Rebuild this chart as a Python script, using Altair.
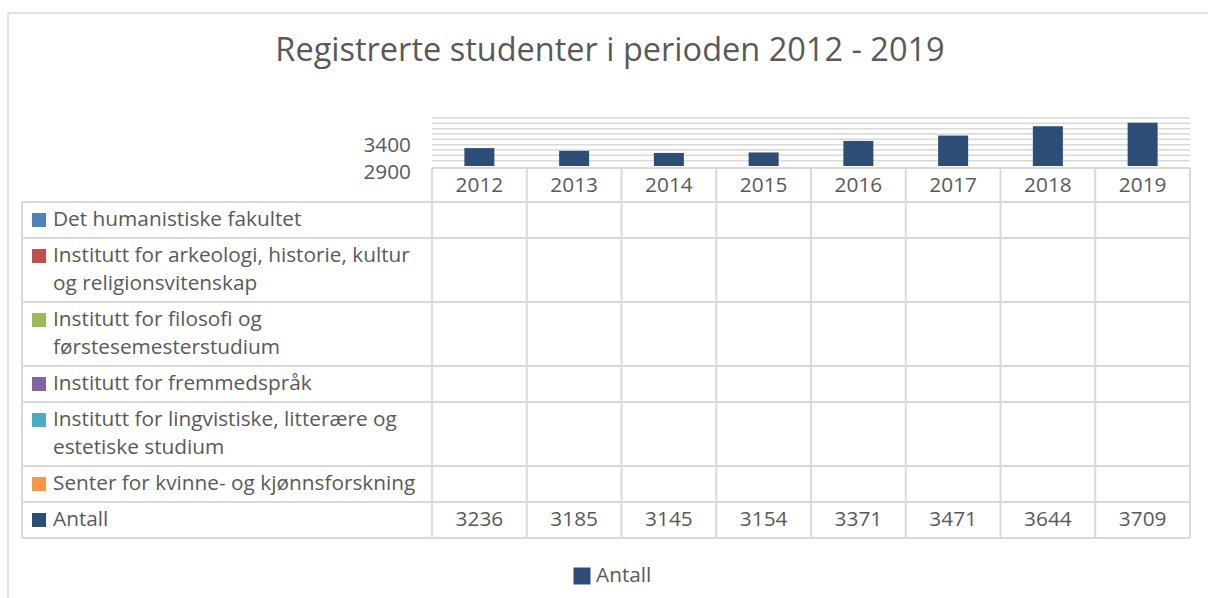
import textwrap
import altair as alt
import pandas as pd

# ---------------- data ----------------
TITLE = "Registrerte studenter i perioden 2012 - 2019"
years = ["2012", "2013", "2014", "2015", "2016", "2017", "2018", "2019"]
antall = [3236, 3185, 3145, 3154, 3371, 3471, 3644, 3709]
series_names = [
    "Det humanistiske fakultet",
    "Institutt for arkeologi, historie, kultur og religionsvitenskap",
    "Institutt for filosofi og førstesemesterstudium",
    "Institutt for fremmedspråk",
    "Institutt for lingvistiske, litterære og estetiske studium",
    "Senter for kvinne- og kjønnsforskning",
    "Antall",
]
series_colors = ["#4f81bd", "#c0504d", "#9bbb59", "#8064a2", "#4bacc6", "#f79646", "#2c4d75"]
y_domain = [2900, 3800]
y_labelled_ticks = [2900, 3400]
y_minor_step = 100
legend_series = ["Antall"]

# ---------------- layout / style ----------------
W, H = 1208, 598
FONT = "Open Sans"
TXT = "#595959"
GRID = "#d9d9d9"
PLOT_X0, PLOT_X1 = 432, 1190
PLOT_YB, PLOT_YT = 166, 118
HEAD_TOP = 168
BODY_TOP = 202
LABEL_X0 = 22
LINE_H, ROW_PAD = 28, 8
WRAP = 41
FS = 20.8

xband = alt.Scale(type="band", domain=years, range=[PLOT_X0, PLOT_X1], paddingInner=0, paddingOuter=0)
yval = alt.Scale(domain=y_domain, range=[PLOT_YB, PLOT_YT], zero=False, nice=False)
ident_y = alt.Scale(domain=[0, H], range=[0, H], zero=False, nice=False)

# table rows
label_rows, square_rows, hlines = [], [], []
y = BODY_TOP
hlines.append(y)
for name, col in zip(series_names, series_colors):
    lines = textwrap.wrap(name, WRAP)
    for i, ln in enumerate(lines):
        label_rows.append({"line": ln, "ty": y + 18 + LINE_H * i})
    square_rows.append({"name": name, "ty": y + 18})
    y += ROW_PAD + LINE_H * len(lines)
    hlines.append(y)
TABLE_BOTTOM = y
antall_row_center = hlines[-2] + (hlines[-1] - hlines[-2]) / 2

df_bars = pd.DataFrame({"year": years, "antall": antall})
grid_vals = list(range(y_domain[0] + y_minor_step, y_domain[1] + 1, y_minor_step))
df_grid = pd.DataFrame({"v": grid_vals})
df_ticks = pd.DataFrame({"v": y_labelled_ticks, "lab": [str(v) for v in y_labelled_ticks]})
df_one = pd.DataFrame({"t": [TITLE]})

border_top = alt.Chart(df_one).mark_rule(color=GRID, strokeWidth=1.5).encode(
    x=alt.value(8), x2=alt.value(W), y=alt.value(13))
border_left = alt.Chart(df_one).mark_rule(color=GRID, strokeWidth=1.5).encode(
    x=alt.value(8), y=alt.value(13), y2=alt.value(H))

title = alt.Chart(df_one).mark_text(font=FONT, fontSize=32.5, color=TXT, align="center", baseline="middle").encode(
    x=alt.value(610), y=alt.value(51), text="t:N")

grid = alt.Chart(df_grid).mark_rule(color=GRID, strokeWidth=1.5).encode(
    y=alt.Y("v:Q", scale=yval, axis=None), x=alt.value(PLOT_X0), x2=alt.value(PLOT_X1))

bars = alt.Chart(df_bars).mark_bar(size=30, color=series_colors[-1]).encode(
    x=alt.X("year:O", scale=xband, axis=None),
    y=alt.Y("antall:Q", scale=yval, axis=None),
    y2=alt.datum(y_domain[0]))

ticks = alt.Chart(df_ticks).mark_text(font=FONT, fontSize=FS, color=TXT, align="right", baseline="middle", dy=7).encode(
    x=alt.value(411), y=alt.Y("v:Q", scale=yval, axis=None), text="lab:N")

# table grid
vlines = alt.Chart(df_bars).mark_rule(color=GRID, strokeWidth=2).encode(
    x=alt.X("year:O", scale=xband, axis=None, bandPosition=0),
    y=alt.value(HEAD_TOP), y2=alt.value(TABLE_BOTTOM))
vline_last = alt.Chart(df_bars.tail(1)).mark_rule(color=GRID, strokeWidth=2).encode(
    x=alt.X("year:O", scale=xband, axis=None, bandPosition=1),
    y=alt.value(HEAD_TOP), y2=alt.value(TABLE_BOTTOM))
vline_left = alt.Chart(df_one).mark_rule(color=GRID, strokeWidth=2).encode(
    x=alt.value(LABEL_X0), y=alt.value(BODY_TOP), y2=alt.value(TABLE_BOTTOM))
hl = alt.Chart(pd.DataFrame({"y": hlines})).mark_rule(color=GRID, strokeWidth=2).encode(
    y=alt.Y("y:Q", scale=ident_y, axis=None), x=alt.value(LABEL_X0), x2=alt.value(PLOT_X1))
hl_head = alt.Chart(df_one).mark_rule(color=GRID, strokeWidth=2).encode(
    y=alt.value(HEAD_TOP), x=alt.value(PLOT_X0), x2=alt.value(PLOT_X1))

head_txt = alt.Chart(df_bars).mark_text(font=FONT, fontSize=FS, color=TXT, baseline="middle").encode(
    x=alt.X("year:O", scale=xband, axis=None), y=alt.value((HEAD_TOP + BODY_TOP) / 2 + 1), text="year:N")
val_txt = alt.Chart(df_bars).mark_text(font=FONT, fontSize=FS, color=TXT, baseline="middle").encode(
    x=alt.X("year:O", scale=xband, axis=None), y=alt.value(antall_row_center), text="antall:Q")

lab_txt = alt.Chart(pd.DataFrame(label_rows)).mark_text(font=FONT, fontSize=FS, color=TXT, align="left", baseline="middle").encode(
    x=alt.value(53), y=alt.Y("ty:Q", scale=ident_y, axis=None), text="line:N")
squares = alt.Chart(pd.DataFrame(square_rows)).mark_square(size=196, opacity=1).encode(
    x=alt.value(39), y=alt.Y("ty:Q", scale=ident_y, axis=None),
    color=alt.Color("name:N", scale=alt.Scale(domain=series_names, range=series_colors), legend=None))

# bottom legend
df_leg = pd.DataFrame({"name": legend_series})
leg_sq = alt.Chart(df_leg).mark_square(size=289, opacity=1).encode(
    x=alt.value(582), y=alt.value(576),
    color=alt.Color("name:N", scale=alt.Scale(domain=series_names, range=series_colors), legend=None))
leg_txt = alt.Chart(df_leg).mark_text(font=FONT, fontSize=FS, color=TXT, align="left", baseline="middle").encode(
    x=alt.value(596), y=alt.value(576), text="name:N")

chart = alt.layer(
    border_top, border_left, title, grid, bars, ticks,
    vlines, vline_last, vline_left, hl, hl_head, head_txt, val_txt, lab_txt, squares, leg_sq, leg_txt,
).resolve_scale(x="independent", y="independent", color="independent").properties(
    width=W, height=H, autosize=alt.AutoSizeParams(type="none"), padding=0, background="white"
).configure_view(stroke=None)

chart.save("out.html", embed_options={"renderer": "svg", "actions": False})
